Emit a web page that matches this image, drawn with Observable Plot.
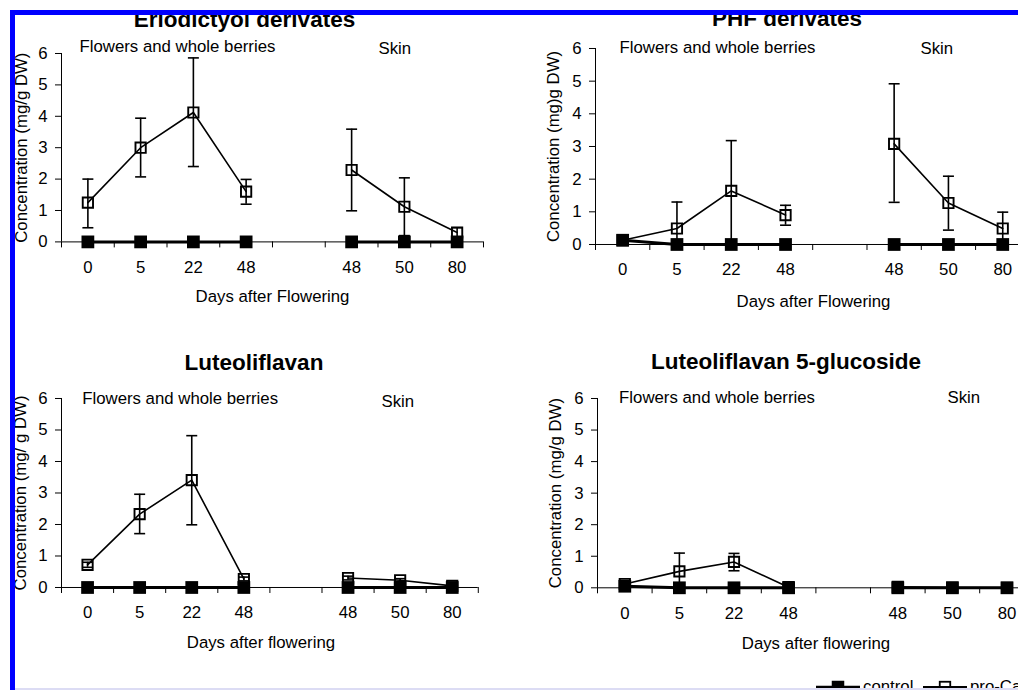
<!DOCTYPE html>
<html>
<head>
<meta charset="utf-8">
<script src="https://cdn.jsdelivr.net/npm/d3@7"></script>
<script src="https://cdn.jsdelivr.net/npm/@observablehq/plot@0.6"></script>
<style>
  html, body { margin: 0; padding: 0; background: #fff; }
  #root { position: relative; width: 1018px; height: 690px; overflow: hidden;
          font-family: "Liberation Sans", Arial, sans-serif; color: #000; background: #fff; }
  .panel { position: absolute; }
  .title { position: absolute; width: 400px; text-align: center; font-weight: bold;
           font-size: 22.5px; line-height: 22.5px; white-space: nowrap; }
  .cover { position: absolute; background: #fff; z-index: 5; }
  .blue { position: absolute; background: #0000ff; z-index: 6; }
  .legend-item { position: absolute; top: 678px; height: 18px; display: flex; align-items: center;
                 font-size: 16.8px; line-height: 18px; white-space: nowrap; z-index: 2; }
  .legend-item svg { display: block; margin-right: 3px; }
</style>
</head>
<body>
<div id="root"></div>
<script>
// ---------------- data ----------------
const dayLabels = ["0", "5", "22", "48", "", "48", "50", "80"]; // "" = gap between the two tissue groups
const groupLabels = ["Flowers and whole berries", "Skin"];
const seriesNames = ["control", "pro-Ca"];

const panelTitles = ["Eriodictyol derivates", "PHF derivates", "Luteoliflavan", "Luteoliflavan 5-glucoside"];
const yLabels = ["Concentration (mg/g DW)", "Concentration (mg)g DW)", "Concentration (mg/ g DW)", "Concentration (mg/g DW)"];
const xLabels = ["Days after Flowering", "Days after Flowering", "Days after flowering", "Days after flowering"];
const yTicks = [0, 1, 2, 3, 4, 5, 6];

const eriodictyolProCa   = [1.25, 3.00, 4.12, 1.60, null, 2.29, 1.12, 0.30];
const eriodictyolHi      = [2.00, 3.94, 5.86, 1.99, null, 3.59, 2.04, 0.45];
const eriodictyolLo      = [0.45, 2.07, 2.40, 1.20, null, 0.99, 0.20, 0.15];
const eriodictyolControl = [0, 0, 0, 0, null, 0, 0, 0];

const phfProCa   = [0.13, 0.49, 1.64, 0.90, null, 3.08, 1.27, 0.49];
const phfHi      = [null, 1.30, 3.18, 1.20, null, 4.92, 2.09, 0.99];
const phfLo      = [null, 0.00, 0.10, 0.59, null, 1.29, 0.44, 0.00];
const phfControl = [0.13, 0, 0, 0, null, 0, 0, 0];

const luteoProCa   = [0.72, 2.33, 3.41, 0.27, null, 0.30, 0.23, 0.05];
const luteoHi      = [0.80, 2.96, 4.82, 0.33, null, 0.36, 0.28, null];
const luteoLo      = [0.64, 1.71, 1.99, 0.21, null, 0.24, 0.18, null];
const luteoControl = [0, 0, 0, 0, null, 0, 0, 0];

const glucProCa   = [0.12, 0.52, 0.82, 0.02, null, 0.03, 0.01, 0.00];
const glucHi      = [null, 1.10, 1.09, null, null, null, null, null];
const glucLo      = [null, 0.00, 0.54, null, null, null, null, null];
const glucControl = [0.05, 0, 0, 0, null, 0, 0, 0];

const panelData = [
  {proCa: eriodictyolProCa, hi: eriodictyolHi, lo: eriodictyolLo, control: eriodictyolControl},
  {proCa: phfProCa, hi: phfHi, lo: phfLo, control: phfControl},
  {proCa: luteoProCa, hi: luteoHi, lo: luteoLo, control: luteoControl},
  {proCa: glucProCa, hi: glucHi, lo: glucLo, control: glucControl}
];

// ---------------- layout (pixels) ----------------
const layout = [
  {ax: 61,    slot: 52.75, y0: 241.7, y6: 53.3,  titleX: 244.5, titleBase: 27.7,
   sub1: [79, 46.7],  sub2: [378, 48],    xlab: [0, 54.5],   ylabDx: -40},
  {ax: 595,   slot: 54.3,  y0: 244.3, y6: 48.3,  titleX: 787,   titleBase: 26.7,
   sub1: [619, 47.7], sub2: [920, 48],    xlab: [0.8, 56.7], ylabDx: -41.7},
  {ax: 61,    slot: 52.1,  y0: 586.7, y6: 397.7, titleX: 254,   titleBase: 370.7,
   sub1: [81.7, 398.3], sub2: [381, 401], xlab: [-9, 55.5],  ylabDx: -40.7},
  {ax: 596.7, slot: 54.6,  y0: 587,   y6: 397.7, titleX: 786,   titleBase: 370,
   sub1: [618.3, 396.7], sub2: [946.7, 396.7], xlab: [0, 56.3], ylabDx: -41.7}
];

const FONT = '"Liberation Sans", Arial, sans-serif';
const ML = 52, MR = 10, MT = 42, MB = 72;
const root = document.getElementById("root");

// error-bar cap: a short horizontal stroke drawn as a custom dot symbol
const capSymbol = {
  draw(context, size) {
    const w = Math.sqrt(size) / 2;
    context.moveTo(-w, 0);
    context.lineTo(w, 0);
  }
};

function makePanel(k) {
  const L = layout[k], D = panelData[k];
  const n = dayLabels.length;
  const rows = dayLabels.map((lab, i) => ({
    i, lab, pro: D.proCa[i], hi: D.hi[i], lo: D.lo[i], ctl: D.control[i]
  }));
  const errRows = rows.filter(d => d.hi != null && d.lo != null);
  const plotH = L.y0 - L.y6;
  const width = ML + n * L.slot + MR;
  const height = MT + plotH + MB;
  const labelTicks = d3.range(n).filter(i => dayLabels[i] !== "");
  const boundaryTicks = d3.range(n + 1).map(i => i - 0.5);

  const chart = Plot.plot({
    width, height,
    marginLeft: ML, marginRight: MR, marginTop: MT, marginBottom: MB,
    style: {fontFamily: FONT, fontSize: "16.8px", color: "#000", background: "transparent", overflow: "visible"},
    x: {type: "linear", domain: [-0.5, n - 0.5], axis: null},
    y: {domain: [0, 6], axis: null},
    marks: [
      Plot.axisY({ticks: yTicks, tickSize: 6, tickPadding: 8, label: null, tickFormat: d => String(d), strokeWidth: 1}),
      Plot.axisX({ticks: labelTicks, tickSize: 0, tickPadding: 19, label: null, tickFormat: i => dayLabels[i]}),
      Plot.axisX({ticks: boundaryTicks, tickSize: 6, label: null, tickFormat: () => ""}),
      Plot.ruleY([0], {stroke: "#000", strokeWidth: 1}),
      Plot.ruleX([-0.5], {stroke: "#000", strokeWidth: 1}),
      // annotations
      Plot.text([groupLabels[0]], {text: d => d, frameAnchor: "top-left", textAnchor: "start", lineAnchor: "middle",
        dx: L.sub1[0] - L.ax, dy: L.sub1[1] - L.y6, fill: "#000"}),
      Plot.text([groupLabels[1]], {text: d => d, frameAnchor: "top-left", textAnchor: "start", lineAnchor: "middle",
        dx: L.sub2[0] - L.ax, dy: L.sub2[1] - L.y6, fill: "#000"}),
      Plot.text([xLabels[k]], {text: d => d, frameAnchor: "bottom", textAnchor: "middle", lineAnchor: "middle",
        dx: L.xlab[0], dy: L.xlab[1], fill: "#000"}),
      Plot.text([yLabels[k]], {text: d => d, frameAnchor: "left", rotate: -90, textAnchor: "middle", lineAnchor: "middle",
        dx: L.ylabDx, fill: "#000"}),
      // pro-Ca error bars
      Plot.ruleX(errRows, {x: "i", y1: "lo", y2: "hi", stroke: "#000", strokeWidth: 1.6}),
      Plot.dot(errRows, {x: "i", y: "hi", symbol: capSymbol, r: 6.2, stroke: "#000", strokeWidth: 1.6, fill: "none"}),
      Plot.dot(errRows, {x: "i", y: "lo", symbol: capSymbol, r: 6.2, stroke: "#000", strokeWidth: 1.6, fill: "none"}),
      // pro-Ca series
      Plot.line(rows, {x: "i", y: "pro", stroke: "#000", strokeWidth: 1.6}),
      Plot.dot(rows, {x: "i", y: "pro", symbol: "square", r: 5.8, stroke: "#000", strokeWidth: 1.9, fill: "none"}),
      // control series
      Plot.line(rows, {x: "i", y: "ctl", stroke: "#000", strokeWidth: 3}),
      Plot.dot(rows, {x: "i", y: "ctl", symbol: "square", r: 7.2, fill: "#000", stroke: "none"})
    ]
  });
  chart.classList.add("panel");
  chart.style.left = (L.ax - ML) + "px";
  chart.style.top = (L.y6 - MT) + "px";
  root.appendChild(chart);

  const t = document.createElement("div");
  t.className = "title";
  t.textContent = panelTitles[k];
  t.style.left = (L.titleX - 200) + "px";
  t.style.top = (L.titleBase - 19) + "px";
  root.appendChild(t);
}

for (let k = 0; k < 4; k++) makePanel(k);

// legend
function legendItem(name, left, filled) {
  const item = document.createElement("div");
  item.className = "legend-item";
  item.style.left = left + "px";
  const ns = "http://www.w3.org/2000/svg";
  const svg = document.createElementNS(ns, "svg");
  svg.setAttribute("width", 44);
  svg.setAttribute("height", 18);
  const line = document.createElementNS(ns, "line");
  line.setAttribute("x1", 0); line.setAttribute("x2", 44);
  line.setAttribute("y1", 9); line.setAttribute("y2", 9);
  line.setAttribute("stroke", "#000"); line.setAttribute("stroke-width", filled ? 2.5 : 1.8);
  svg.appendChild(line);
  const rect = document.createElementNS(ns, "rect");
  const s = filled ? 12.5 : 10.5;
  rect.setAttribute("x", 22 - s / 2); rect.setAttribute("y", 9 - s / 2);
  rect.setAttribute("width", s); rect.setAttribute("height", s);
  rect.setAttribute("fill", filled ? "#000" : "none");
  rect.setAttribute("stroke", "#000"); rect.setAttribute("stroke-width", filled ? 0 : 1.8);
  svg.appendChild(rect);
  item.appendChild(svg);
  const span = document.createElement("span");
  span.textContent = name;
  item.appendChild(span);
  root.appendChild(item);
}
legendItem(seriesNames[0], 816, true);
legendItem(seriesNames[1], 923, false);

// page frame: white margin, blue border, faint bottom rule
function box(cls, l, t, w, h, bg) {
  const d = document.createElement("div");
  d.className = cls;
  Object.assign(d.style, {left: l + "px", top: t + "px", width: w + "px", height: h + "px"});
  if (bg) d.style.background = bg;
  root.appendChild(d);
}
box("cover", 0, 0, 1018, 10);
box("cover", 0, 0, 10, 690);
box("blue", 10, 10, 1008, 5);
box("blue", 10, 10, 5, 680);
box("cover", 15, 688, 1003, 2, "#dcdcf4");
</script>
</body>
</html>
